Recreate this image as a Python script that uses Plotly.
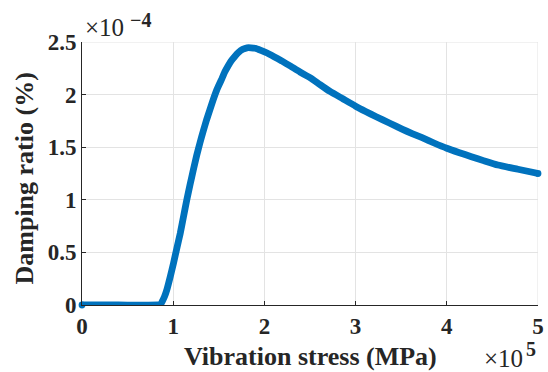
import plotly.graph_objects as go

# Vibration stress (MPa) and damping ratio (%)
stress = [0, 0.40e5, 0.835e5, 0.86e5, 0.88e5, 0.905e5, 0.932e5, 0.968e5, 1.004e5,
          1.04e5, 1.077e5, 1.113e5, 1.149e5, 1.185e5, 1.221e5, 1.257e5, 1.293e5,
          1.33e5, 1.366e5, 1.40e5, 1.438e5, 1.48e5, 1.528e5, 1.565e5, 1.60e5,
          1.635e5, 1.673e5, 1.715e5, 1.763e5, 1.81e5, 1.853e5, 1.90e5, 1.962e5,
          2.03e5, 2.106e5, 2.19e5, 2.287e5, 2.39e5, 2.504e5, 2.61e5, 2.72e5,
          2.86e5, 3.00e5, 3.11e5, 3.226e5, 3.37e5, 3.515e5, 3.62e5, 3.73e5,
          3.86e5, 4.00e5, 4.13e5, 4.27e5, 4.41e5, 4.56e5, 4.78e5, 5.00e5]
damping = [0, 0, 0, 0.005e-4, 0.035e-4, 0.08e-4, 0.15e-4, 0.27e-4, 0.40e-4,
           0.54e-4, 0.68e-4, 0.84e-4, 1.00e-4, 1.145e-4, 1.285e-4, 1.42e-4, 1.54e-4,
           1.655e-4, 1.76e-4, 1.85e-4, 1.95e-4, 2.05e-4, 2.14e-4, 2.215e-4, 2.27e-4,
           2.32e-4, 2.36e-4, 2.40e-4, 2.43e-4, 2.445e-4, 2.445e-4, 2.44e-4, 2.42e-4,
           2.395e-4, 2.36e-4, 2.32e-4, 2.27e-4, 2.215e-4, 2.16e-4, 2.095e-4, 2.03e-4,
           1.96e-4, 1.89e-4, 1.84e-4, 1.79e-4, 1.73e-4, 1.67e-4, 1.63e-4, 1.59e-4,
           1.54e-4, 1.49e-4, 1.45e-4, 1.41e-4, 1.37e-4, 1.33e-4, 1.29e-4, 1.25e-4]

x_ticks = [0, 1e5, 2e5, 3e5, 4e5, 5e5]
x_tick_labels = ["0", "1", "2", "3", "4", "5"]
y_ticks = [0, 0.5e-4, 1e-4, 1.5e-4, 2e-4, 2.5e-4]
y_tick_labels = ["0", "0.5", "1", "1.5", "2", "2.5"]

BLUE = "#0072BD"
AXIS = "#262626"
GRID = "#e3e3e3"
FONT = "Times New Roman, Liberation Serif, serif"

fig = go.Figure()
fig.add_trace(go.Scatter(
    x=stress, y=damping, mode="lines",
    line=dict(color=BLUE, width=6.8, shape="spline", smoothing=0.5),
    cliponaxis=False, showlegend=False, hoverinfo="skip",
))
# round ends of the thick line
fig.add_trace(go.Scatter(
    x=[stress[0], stress[-1]], y=[damping[0], damping[-1]], mode="markers",
    marker=dict(color=BLUE, size=6.8, line=dict(width=0)),
    cliponaxis=False, showlegend=False, hoverinfo="skip",
))

# grid lines on the top and right edges of the axes
fig.add_shape(type="line", xref="paper", yref="y", x0=0, x1=1, y0=y_ticks[-1], y1=y_ticks[-1],
              line=dict(color=GRID, width=1), layer="below")
fig.add_shape(type="line", xref="x", yref="paper", x0=x_ticks[-1], x1=x_ticks[-1], y0=0, y1=1,
              line=dict(color=GRID, width=1), layer="below")

axis_common = dict(
    showgrid=True, gridcolor=GRID, gridwidth=1,
    showline=True, linecolor=AXIS, linewidth=1,
    ticks="inside", ticklen=4, tickcolor=AXIS, tickwidth=1,
    zeroline=False, mirror=False, ticklabeloverflow="allow",
    tickfont=dict(family=FONT, size=23, color=AXIS, weight="bold"),
)

fig.update_xaxes(range=[0, 5e5], tickmode="array", tickvals=x_ticks,
                 ticktext=x_tick_labels, **axis_common)
fig.update_yaxes(range=[0, 2.5e-4], tickmode="array", tickvals=y_ticks,
                 ticktext=y_tick_labels, **axis_common)

title_font = dict(family=FONT, size=26, color=AXIS, weight="bold")
fig.add_annotation(
    xref="paper", yref="paper", x=0.5, y=0, xanchor="center", yanchor="middle",
    text="Vibration stress (MPa)", showarrow=False, font=title_font, yshift=-51,
)
fig.add_annotation(
    xref="paper", yref="paper", x=0, y=0.5, xanchor="center", yanchor="middle",
    text="Damping ratio (%)", textangle=-90, showarrow=False, font=title_font,
    xshift=-58, yshift=-5,
)

# axis exponent labels
exp_font = dict(family=FONT, size=25, color=AXIS)
sup_font = dict(family=FONT, size=20, color=AXIS, weight="bold")
fig.add_annotation(
    xref="paper", yref="paper", x=0, y=1, xanchor="left", yanchor="bottom",
    text="×10", showarrow=False, font=exp_font, xshift=1, yshift=-1,
)
fig.add_annotation(
    xref="paper", yref="paper", x=0, y=1, xanchor="left", yanchor="bottom",
    text="−4", showarrow=False, font=sup_font, xshift=46, yshift=9,
)
fig.add_annotation(
    xref="paper", yref="paper", x=1, y=0, xanchor="right", yanchor="top",
    text="×10", showarrow=False, font=exp_font, xshift=-13, yshift=-38,
)
fig.add_annotation(
    xref="paper", yref="paper", x=1, y=0, xanchor="left", yanchor="top",
    text="5", showarrow=False, font=sup_font, xshift=-14, yshift=-31,
)

fig.update_layout(
    width=548, height=372,
    margin=dict(l=82, r=4, t=42, b=67),
    paper_bgcolor="white", plot_bgcolor="white",
)

fig.write_html("out.html")
